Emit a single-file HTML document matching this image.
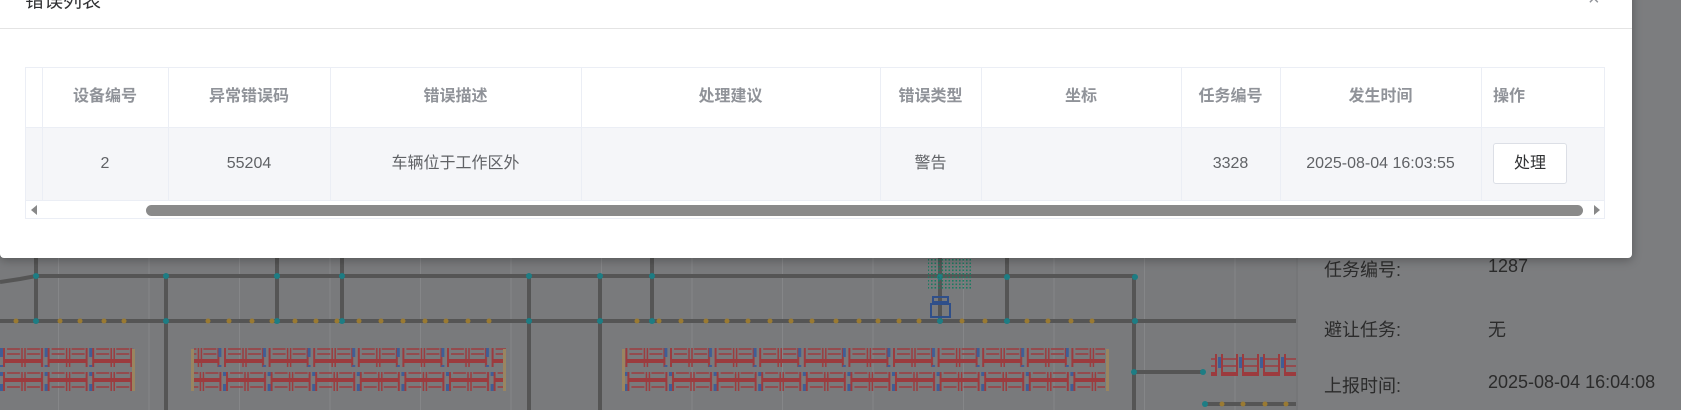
<!DOCTYPE html>
<html><head><meta charset="utf-8"><style>
html,body{margin:0;padding:0;width:1681px;height:410px;overflow:hidden;background:#797a7c;font-family:"Liberation Sans","Noto Sans CJK SC",sans-serif;}
.abs{position:absolute;}
.modal{position:absolute;left:0;top:-10px;width:1632px;height:268px;background:#fff;border-radius:0 0 4px 4px;box-shadow:0 2px 10px rgba(0,0,0,.3);}
.th{position:absolute;top:67px;height:60px;line-height:60px;text-align:center;color:#909399;font-weight:bold;font-size:16px;}
.td{position:absolute;top:127px;height:73px;line-height:73px;text-align:center;color:#606266;font-size:16px;}
.vl{position:absolute;top:67px;height:133px;width:1px;background:#ebeef5;}
.pt{position:absolute;color:#2b2b2b;font-size:18px;}
</style></head><body>
<svg class="abs" style="left:0;top:0" width="1681" height="410">
<defs>
<pattern id="ra" width="44.6" height="19" patternUnits="userSpaceOnUse">
<rect x="2" y="1" width="38" height="17" fill="none" stroke="#9c3b3e" stroke-width="2"/>
<line x1="20" y1="1" x2="20" y2="18" stroke="#9c3b3e" stroke-width="1.5"/>
<line x1="23" y1="1" x2="23" y2="18" stroke="#9c3b3e" stroke-width="1.5"/>
<line x1="5" y1="7" x2="18" y2="7" stroke="#9c3b3e" stroke-width="1.5"/>
<line x1="5" y1="12" x2="18" y2="12" stroke="#9c3b3e" stroke-width="1.5"/>
<line x1="25" y1="7" x2="38" y2="7" stroke="#9c3b3e" stroke-width="1.5"/>
<line x1="25" y1="12" x2="38" y2="12" stroke="#9c3b3e" stroke-width="1.5"/>
<rect x="40" y="4" width="3" height="11" fill="#3f5e96"/>
</pattern>
<pattern id="rb" width="44.6" height="19" patternUnits="userSpaceOnUse">
<rect x="4" y="1" width="38" height="17" fill="none" stroke="#9c3b3e" stroke-width="2"/>
<line x1="22" y1="1" x2="22" y2="18" stroke="#9c3b3e" stroke-width="1.5"/>
<line x1="25" y1="1" x2="25" y2="18" stroke="#9c3b3e" stroke-width="1.5"/>
<line x1="7" y1="7" x2="20" y2="7" stroke="#9c3b3e" stroke-width="1.5"/>
<line x1="7" y1="12" x2="20" y2="12" stroke="#9c3b3e" stroke-width="1.5"/>
<line x1="27" y1="7" x2="40" y2="7" stroke="#9c3b3e" stroke-width="1.5"/>
<line x1="27" y1="12" x2="40" y2="12" stroke="#9c3b3e" stroke-width="1.5"/>
<rect x="0" y="4" width="3" height="11" fill="#3f5e96"/>
</pattern>
<pattern id="rv" width="21" height="22" patternUnits="userSpaceOnUse">
<rect x="4" y="1" width="15" height="20" fill="none" stroke="#9c3b3e" stroke-width="2"/>
<line x1="4" y1="7" x2="19" y2="7" stroke="#9c3b3e" stroke-width="1.5"/>
<line x1="4" y1="14" x2="19" y2="14" stroke="#9c3b3e" stroke-width="1.5"/>
<rect x="0" y="5" width="3" height="11" fill="#3f5e96"/>
</pattern>
<pattern id="gd" width="3.5" height="3.5" patternUnits="userSpaceOnUse"><rect width="1.6" height="1.6" fill="#1c7a60"/></pattern>
<pattern id="grid" width="90.5" height="410" patternUnits="userSpaceOnUse" x="58"><rect width="1" height="410" fill="#858688"/></pattern>
</defs>
<rect x="0" y="0" width="1298" height="410" fill="url(#grid)"/>
<g stroke="#555" stroke-width="4">
<polyline points="0,282 20,279 36,276 1135,276" fill="none"/>
<line x1="0" y1="321" x2="1298" y2="321"/>
<line x1="36" y1="258" x2="36" y2="321"/>
<line x1="166" y1="276" x2="166" y2="410"/>
<line x1="277" y1="258" x2="277" y2="321"/>
<line x1="342" y1="258" x2="342" y2="321"/>
<line x1="529" y1="276" x2="529" y2="410"/>
<line x1="600" y1="276" x2="600" y2="410"/>
<line x1="652" y1="258" x2="652" y2="321"/>
<line x1="940" y1="258" x2="940" y2="321"/>
<line x1="1007" y1="258" x2="1007" y2="321"/>
<line x1="1134" y1="276" x2="1134" y2="410"/>
<line x1="1134" y1="372" x2="1203" y2="372"/>
<line x1="1205" y1="404" x2="1298" y2="404"/>
</g>
<g fill="#1d7d84">
<circle cx="36" cy="276" r="3"/><circle cx="166" cy="276" r="3"/><circle cx="277" cy="276" r="3"/><circle cx="342" cy="276" r="3"/><circle cx="529" cy="276" r="3"/><circle cx="600" cy="276" r="3"/><circle cx="652" cy="276" r="3"/><circle cx="940" cy="277" r="3"/><circle cx="1007" cy="277" r="3"/><circle cx="1135" cy="277" r="3"/>
<circle cx="36" cy="321" r="3"/><circle cx="166" cy="321" r="3"/><circle cx="277" cy="321" r="3"/><circle cx="342" cy="321" r="3"/><circle cx="529" cy="321" r="3"/><circle cx="600" cy="321" r="3"/><circle cx="652" cy="321" r="3"/><circle cx="940" cy="321" r="3"/><circle cx="1007" cy="321" r="3"/><circle cx="1135" cy="321" r="3"/>
<circle cx="1134" cy="372" r="3"/><circle cx="1203" cy="372" r="3"/><circle cx="1205" cy="404" r="3"/>
</g>
<g fill="#9a7a32">
<circle cx="16" cy="321" r="2.5"/><circle cx="60" cy="321" r="2.5"/><circle cx="80" cy="321" r="2.5"/><circle cx="104" cy="321" r="2.5"/><circle cx="124" cy="321" r="2.5"/>
<circle cx="208" cy="321" r="2.5"/><circle cx="229" cy="321" r="2.5"/><circle cx="252" cy="321" r="2.5"/><circle cx="272" cy="321" r="2.5"/><circle cx="295" cy="321" r="2.5"/><circle cx="316" cy="321" r="2.5"/><circle cx="337" cy="321" r="2.5"/><circle cx="359" cy="321" r="2.5"/><circle cx="381" cy="321" r="2.5"/><circle cx="403" cy="321" r="2.5"/><circle cx="425" cy="321" r="2.5"/><circle cx="446" cy="321" r="2.5"/><circle cx="468" cy="321" r="2.5"/><circle cx="489" cy="321" r="2.5"/>
<circle cx="637" cy="321" r="2.5"/><circle cx="659" cy="321" r="2.5"/><circle cx="681" cy="321" r="2.5"/><circle cx="706" cy="321" r="2.5"/><circle cx="727" cy="321" r="2.5"/><circle cx="748" cy="321" r="2.5"/><circle cx="770" cy="321" r="2.5"/><circle cx="791" cy="321" r="2.5"/><circle cx="812" cy="321" r="2.5"/><circle cx="836" cy="321" r="2.5"/><circle cx="859" cy="321" r="2.5"/><circle cx="878" cy="321" r="2.5"/><circle cx="899" cy="321" r="2.5"/><circle cx="919" cy="321" r="2.5"/><circle cx="962" cy="321" r="2.5"/><circle cx="985" cy="321" r="2.5"/><circle cx="1027" cy="321" r="2.5"/><circle cx="1048" cy="321" r="2.5"/><circle cx="1071" cy="321" r="2.5"/><circle cx="1092" cy="321" r="2.5"/>
<circle cx="1222" cy="404" r="2.5"/><circle cx="1243" cy="404" r="2.5"/><circle cx="1265" cy="404" r="2.5"/><circle cx="1286" cy="404" r="2.5"/>
</g>
<rect x="928" y="258" width="43" height="31" fill="url(#gd)"/>
<g fill="none" stroke="#2f4f8a" stroke-width="2"><rect x="933" y="297" width="15" height="5"/><rect x="931" y="304" width="19" height="13"/><line x1="940" y1="302" x2="940" y2="304"/></g>
<rect x="0" y="348" width="134" height="19" fill="url(#rb)"/><rect x="0" y="372" width="134" height="19" fill="url(#rb)"/>
<rect x="132" y="349" width="3" height="42" fill="#9a8560"/>
<rect x="191" y="349" width="3" height="42" fill="#9a8560"/>
<rect x="194" y="348" width="312" height="19" fill="url(#ra)"/><rect x="194" y="372" width="312" height="19" fill="url(#rb)"/>
<rect x="503" y="349" width="3" height="42" fill="#9a8560"/>
<rect x="622" y="349" width="3" height="42" fill="#9a8560"/>
<rect x="625" y="348" width="480" height="19" fill="url(#ra)"/><rect x="625" y="372" width="480" height="19" fill="url(#rb)"/>
<rect x="1106" y="349" width="3" height="42" fill="#9a8560"/>
<rect x="1211" y="354" width="87" height="22" fill="url(#rv)"/>
<rect x="1296" y="0" width="385" height="410" fill="#7c7d7f"/>
<line x1="1297" y1="0" x2="1297" y2="410" stroke="#6e6f71" stroke-width="1"/>
</svg>
<div class="pt" style="left:1324px;top:256px">任务编号:</div><div class="pt" style="left:1488px;top:256px">1287</div>
<div class="pt" style="left:1324px;top:316px">避让任务:</div><div class="pt" style="left:1488px;top:316px">无</div>
<div class="pt" style="left:1324px;top:372px">上报时间:</div><div class="pt" style="left:1488px;top:372px">2025-08-04 16:04:08</div>

<div class="modal"></div>
<div class="abs" style="left:25px;top:-14px;font-size:19px;color:#303133">错误列表</div>
<div class="abs" style="left:1588px;top:-12px;font-size:20px;color:#909399">×</div>
<div class="abs" style="left:0;top:28px;width:1632px;height:1px;background:#e4e4e4"></div>
<div class="abs" style="left:25px;top:67px;width:1580px;height:152px;border:1px solid #ebeef5;box-sizing:border-box"></div>
<div class="abs" style="left:26px;top:127px;width:1578px;height:73px;background:#f5f6f9"></div>
<div class="abs" style="left:26px;top:127px;width:1578px;height:1px;background:#ebeef5"></div>
<div class="abs" style="left:26px;top:200px;width:1578px;height:1px;background:#ebeef5"></div>
<div class="vl" style="left:42px"></div><div class="vl" style="left:168px"></div><div class="vl" style="left:330px"></div><div class="vl" style="left:581px"></div><div class="vl" style="left:880px"></div><div class="vl" style="left:981px"></div><div class="vl" style="left:1181px"></div><div class="vl" style="left:1280px"></div><div class="vl" style="left:1481px"></div>
<div class="th" style="left:42px;width:126px">设备编号</div>
<div class="th" style="left:168px;width:162px">异常错误码</div>
<div class="th" style="left:330px;width:251px">错误描述</div>
<div class="th" style="left:581px;width:299px">处理建议</div>
<div class="th" style="left:880px;width:101px">错误类型</div>
<div class="th" style="left:981px;width:200px">坐标</div>
<div class="th" style="left:1181px;width:99px">任务编号</div>
<div class="th" style="left:1280px;width:201px">发生时间</div>
<div class="th" style="left:1493px;text-align:left">操作</div>
<div class="td" style="left:42px;width:126px">2</div>
<div class="td" style="left:168px;width:162px">55204</div>
<div class="td" style="left:330px;width:251px">车辆位于工作区外</div>
<div class="td" style="left:880px;width:101px">警告</div>
<div class="td" style="left:1181px;width:99px">3328</div>
<div class="td" style="left:1280px;width:201px">2025-08-04 16:03:55</div>
<div class="abs" style="left:1493px;top:143px;width:74px;height:41px;border:1px solid #dcdfe6;border-radius:3px;background:#fff;box-sizing:border-box;text-align:center;line-height:39px;font-size:16px;color:#303133">处理</div>
<div class="abs" style="left:146px;top:205px;width:1437px;height:11px;background:#8a8a8a;border-radius:6px"></div>
<div class="abs" style="left:31px;top:205px;width:0;height:0;border-top:5px solid transparent;border-bottom:5px solid transparent;border-right:6px solid #888"></div>
<div class="abs" style="left:1594px;top:205px;width:0;height:0;border-top:5px solid transparent;border-bottom:5px solid transparent;border-left:6px solid #888"></div>
</body></html>
